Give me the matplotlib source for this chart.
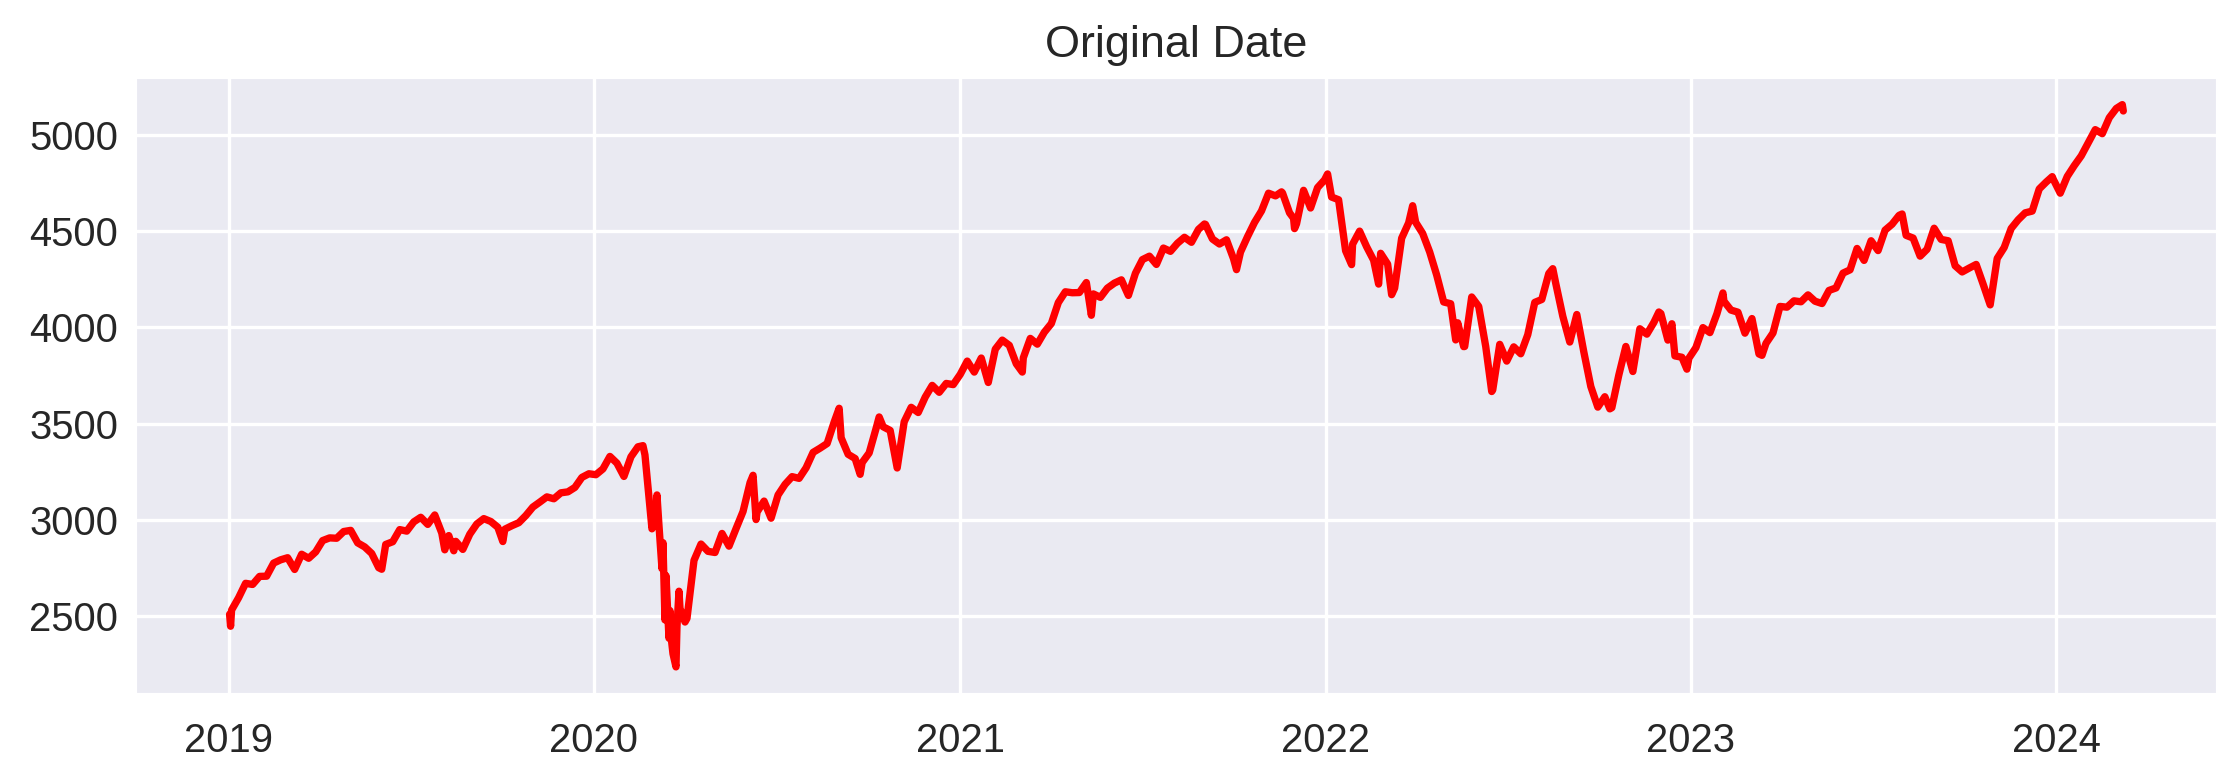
import matplotlib
matplotlib.use('Agg')
import matplotlib.pyplot as plt
import pandas as pd
import seaborn as sns

# weekly (Friday) closes
close_2019 = [2532, 2596, 2671, 2665, 2707, 2708, 2776, 2793, 2804, 2743, 2822, 2801, 2834,
              2893, 2907, 2905, 2940, 2946, 2881, 2860, 2826, 2752, 2873, 2887, 2950, 2942,
              2990, 3014, 2977, 3026, 2932, 2919, 2889, 2847, 2926, 2979, 3007, 2992, 2962,
              2952, 2970, 2986, 3023, 3067, 3093, 3120, 3110, 3141, 3146, 3169, 3221, 3240]
close_2020 = [3235, 3265, 3330, 3295, 3226, 3328, 3380, 3338, 2954, 2972, 2711, 2305, 2541,
              2489, 2790, 2875, 2837, 2831, 2930, 2864, 2955, 3044, 3194, 3041, 3098, 3009,
              3130, 3185, 3225, 3216, 3271, 3351, 3373, 3397, 3508, 3427, 3341, 3319, 3298,
              3348, 3477, 3484, 3465, 3270, 3510, 3585, 3558, 3638, 3699, 3663, 3709, 3703]
close_2021 = [3756, 3825, 3768, 3841, 3714, 3887, 3934, 3907, 3811, 3842, 3943, 3913, 3975,
              4020, 4129, 4185, 4180, 4181, 4233, 4174, 4156, 4204, 4230, 4247, 4166, 4281,
              4352, 4370, 4327, 4412, 4395, 4437, 4468, 4442, 4509, 4535, 4459, 4433, 4455,
              4357, 4391, 4471, 4545, 4605, 4697, 4683, 4698, 4595, 4538, 4712, 4620, 4726, 4766]
close_2022 = [4677, 4663, 4398, 4432, 4500, 4419, 4349, 4385, 4329, 4204, 4463, 4543,
              4546, 4488, 4392, 4272, 4132, 4123, 4024, 3901, 4158, 4109, 3901, 3675, 3912,
              3825, 3899, 3863, 3962, 4130, 4145, 4280, 4228, 4058, 3924, 4067, 3873, 3693, 3586,
              3640, 3583, 3753, 3901, 3771, 3993, 3965, 4026, 4072, 3934, 3852, 3845, 3840]
close_2023 = [3895, 3999, 3973, 4071, 4136, 4090, 4079, 3970, 4046, 3862, 3917, 3971, 4109,
              4105, 4138, 4133, 4169, 4136, 4124, 4192, 4205, 4282, 4299, 4410, 4348, 4450,
              4399, 4505, 4536, 4582, 4478, 4464, 4370, 4406, 4515, 4457, 4450, 4320, 4288,
              4308, 4327, 4224, 4117, 4358, 4415, 4514, 4559, 4595, 4604, 4719, 4755, 4770]
close_2024 = [4697, 4784, 4840, 4891, 4959, 5027, 5006, 5089, 5137, 5124]

# single days with visible spikes / dips
extra_dates = ['2019-01-02', '2019-01-03', '2019-06-03', '2019-08-05', '2019-08-14', '2019-10-02',
               '2020-02-19', '2020-03-03', '2020-03-04', '2020-03-09', '2020-03-10', '2020-03-12',
               '2020-03-16', '2020-03-17', '2020-03-18', '2020-03-23', '2020-03-24', '2020-03-26',
               '2020-04-01', '2020-06-08', '2020-06-11', '2020-09-02', '2020-09-23', '2020-10-12',
               '2021-01-27', '2021-03-04', '2021-05-12', '2021-09-02', '2021-10-04',
               '2021-11-18', '2021-11-30', '2021-12-01',
               '2022-01-03', '2022-01-27', '2022-02-23', '2022-03-08', '2022-03-29', '2022-05-11',
               '2022-05-19', '2022-06-16', '2022-08-16', '2022-10-12', '2022-11-30', '2022-12-13',
               '2022-12-28',
               '2023-02-02', '2023-03-13', '2023-07-31', '2023-12-28', '2024-03-07']
extra_close = [2510, 2448, 2744, 2845, 2840, 2888,
               3386, 3003, 3130, 2747, 2882, 2481,
               2386, 2529, 2398, 2237, 2447, 2630,
               2470, 3232, 3002, 3580, 3237, 3535,
               3751, 3768, 4063, 4537, 4300,
               4704, 4567, 4513,
               4797, 4326, 4225, 4170, 4632, 3935,
               3900, 3667, 4305, 3577, 4080, 4019,
               3783,
               4179, 3855, 4589, 4783, 5157]

weekly = close_2019 + close_2020 + close_2021 + close_2022 + close_2023 + close_2024
weekly_dates = pd.date_range('2019-01-04', periods=len(weekly), freq='W-FRI')
s = pd.concat([pd.Series(weekly, index=weekly_dates),
               pd.Series(extra_close, index=pd.to_datetime(extra_dates))]).sort_index()
s = s[~s.index.duplicated()]

sns.set_theme(style='darkgrid')
plt.rcParams['font.family'] = ['Liberation Sans', 'DejaVu Sans']

fig, ax = plt.subplots(figsize=(2237 / 240, 765 / 240), dpi=240)
ax.plot(s.index, s.values, color='red', linewidth=2.2)
ax.set_title('Original Date', fontsize=13.5)
ax.tick_params(labelsize=12, length=0)
ax.tick_params(axis='y', pad=5)
ax.tick_params(axis='x', pad=8)
fig.subplots_adjust(left=0.0603, right=0.9915, top=0.90, bottom=0.0915)
fig.savefig('out.png', dpi=240)
